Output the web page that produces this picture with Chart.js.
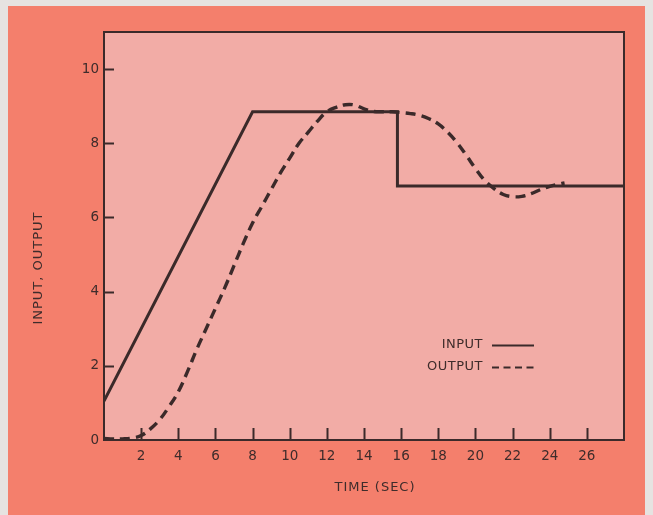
<!DOCTYPE html>
<html>
<head>
<meta charset="utf-8">
<script src="https://cdn.jsdelivr.net/npm/chart.js@4.4.1/dist/chart.umd.min.js"></script>
<style>
  html, body { margin: 0; padding: 0; background: #e6e3e1; overflow: hidden; }
  canvas { display: block; }
</style>
</head>
<body>
<canvas id="chart" width="653" height="515"></canvas>
<script>
// Input: ramp, hold, then step down
const inputTime   = [0, 8, 15.8, 15.8, 28];
const inputValues = [1.05, 8.85, 8.85, 6.85, 6.85];

// Output response
const outputTime = [0, 0.5, 1, 1.5, 2, 2.5, 3, 3.5, 4, 4.5, 5, 5.5, 6, 6.5, 7, 7.5, 8, 8.5, 9, 9.5,
  10, 10.5, 11, 11.5, 12, 12.5, 13, 13.5, 14, 14.5, 15, 15.5, 16, 16.5, 17, 17.5, 18, 18.5, 19, 19.5,
  20, 20.5, 21, 21.5, 22, 22.5, 23, 23.5, 24, 24.5, 24.8];
const outputValues = [0.04, 0.03, 0.03, 0.05, 0.12, 0.3, 0.55, 0.9, 1.3, 1.85, 2.45, 3.0, 3.55, 4.1, 4.7, 5.3, 5.85, 6.3, 6.75, 7.2,
  7.6, 8.0, 8.3, 8.6, 8.85, 8.97, 9.04, 9.03, 8.93, 8.86, 8.85, 8.85, 8.83, 8.8, 8.75, 8.66, 8.52, 8.3, 8.02, 7.68,
  7.32, 7.0, 6.78, 6.62, 6.56, 6.57, 6.64, 6.75, 6.84, 6.9, 6.93];

const xTickValues = [2, 4, 6, 8, 10, 12, 14, 16, 18, 20, 22, 24, 26];
const yTickValues = [0, 2, 4, 6, 8, 10];

const INK = '#3b2a2a';
const TEXT = '#3e2c2b';
const FONT = '"DejaVu Sans", sans-serif';

const pairs = (xs, ys) => xs.map((x, i) => ({ x, y: ys[i] }));

// Backgrounds, frame, inward tick marks, axis titles and legend
const decor = {
  id: 'decor',
  beforeDraw(chart) {
    const { ctx, chartArea: a } = chart;
    ctx.save();
    ctx.fillStyle = '#e6e3e1';
    ctx.fillRect(0, 0, chart.width, chart.height);
    ctx.fillStyle = '#f47f6c';
    ctx.fillRect(8, 6, 637, 509);
    ctx.fillStyle = '#f2aca6';
    ctx.fillRect(a.left, a.top, a.right - a.left, a.bottom - a.top);
    ctx.restore();
  },
  afterDraw(chart) {
    const { ctx, chartArea: a, scales: { x, y } } = chart;
    ctx.save();
    ctx.strokeStyle = INK;
    ctx.lineWidth = 2;
    ctx.strokeRect(a.left, a.top, a.right - a.left, a.bottom - a.top);
    ctx.beginPath();
    xTickValues.forEach(v => {
      const px = Math.round(x.getPixelForValue(v)) + 0.5;
      ctx.moveTo(px, a.bottom);
      ctx.lineTo(px, a.bottom - 12);
    });
    yTickValues.filter(v => v > 0).forEach(v => {
      const py = Math.round(y.getPixelForValue(v)) + 0.5;
      ctx.moveTo(a.left, py);
      ctx.lineTo(a.left + 10, py);
    });
    ctx.stroke();

    // axis titles
    ctx.fillStyle = TEXT;
    ctx.font = '13px ' + FONT;
    ctx.letterSpacing = '1px';
    ctx.textAlign = 'center';
    ctx.textBaseline = 'middle';
    ctx.fillText('TIME (SEC)', a.left + (a.right - a.left) / 2 + 11, 488);
    ctx.save();
    ctx.translate(39, 268);
    ctx.rotate(-Math.PI / 2);
    ctx.fillText('INPUT, OUTPUT', 0, 0);
    ctx.restore();

    // legend: label then line sample
    ctx.letterSpacing = '0.5px';
    ctx.textAlign = 'right';
    chart.data.datasets.forEach((ds, i) => {
      const ly = 345 + i * 22;
      ctx.fillText(ds.label, 483, ly);
      ctx.beginPath();
      ctx.setLineDash(ds.borderDash ? [7, 4.5] : []);
      ctx.lineWidth = 2;
      ctx.strokeStyle = INK;
      ctx.moveTo(492, ly + 0.5);
      ctx.lineTo(534, ly + 0.5);
      ctx.stroke();
    });
    ctx.restore();
  }
};

new Chart(document.getElementById('chart'), {
  type: 'line',
  data: {
    datasets: [
      {
        label: 'INPUT',
        data: pairs(inputTime, inputValues),
        borderColor: INK,
        borderWidth: 3,
        pointRadius: 0,
        tension: 0,
        borderJoinStyle: 'miter'
      },
      {
        label: 'OUTPUT',
        data: pairs(outputTime, outputValues),
        borderColor: INK,
        borderWidth: 3.4,
        borderDash: [10, 6],
        pointRadius: 0,
        tension: 0.4
      }
    ]
  },
  options: {
    responsive: false,
    animation: false,
    devicePixelRatio: 1,
    layout: { padding: { left: 0, top: 32, right: 29, bottom: 0 } },
    plugins: { legend: { display: false }, tooltip: { enabled: false } },
    scales: {
      x: {
        type: 'linear',
        min: 0,
        max: 28,
        afterBuildTicks: s => { s.ticks = xTickValues.map(v => ({ value: v })); },
        afterFit: s => { s.height = 75; },
        grid: { display: false, drawTicks: false },
        border: { display: false },
        ticks: { color: TEXT, font: { family: FONT, size: 13.5 }, padding: 8, maxRotation: 0, autoSkip: false },
        title: { display: false }
      },
      y: {
        type: 'linear',
        min: 0,
        max: 11,
        afterBuildTicks: s => { s.ticks = yTickValues.map(v => ({ value: v })); },
        afterFit: s => { s.width = 104; },
        grid: { display: false, drawTicks: false },
        border: { display: false },
        ticks: { color: TEXT, font: { family: FONT, size: 13.5 }, padding: 5, autoSkip: false },
        title: { display: false }
      }
    }
  },
  plugins: [decor]
});
</script>
</body>
</html>
